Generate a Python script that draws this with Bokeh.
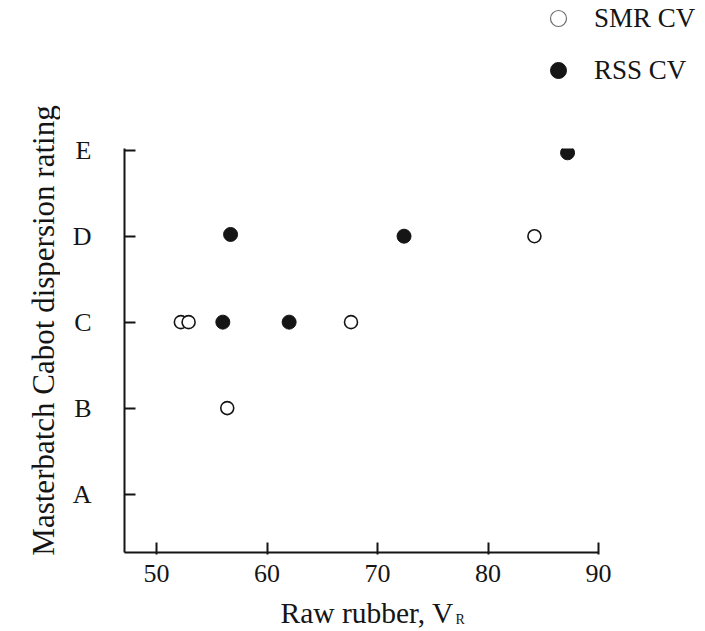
import math
from bokeh.plotting import figure
from bokeh.layouts import column, row
from bokeh.models import Range1d, FixedTicker, Label, Legend, LegendItem, ColumnDataSource
from bokeh.embed import file_html
from bokeh.resources import INLINE

# data
smr_vr = [52.2, 52.9, 56.4, 67.6, 84.2]
smr_rating = [3, 3, 2, 3, 4]
rss_vr = [56.0, 56.7, 62.0, 72.4, 87.2]
rss_rating = [3, 4.02, 3, 4, 4.97]
rating_ticks = [1, 2, 3, 4, 5]
rating_labels = ["A", "B", "C", "D", "E"]
x_ticks = [50, 60, 70, 80, 90]
series_names = ["SMR CV", "RSS CV"]
x_title = "Raw rubber, V"
x_title_sub = "R"
y_title = "Masterbatch Cabot dispersion rating"

FONT = "Liberation Serif"
INK = "#151515"
OPEN_STYLE = dict(marker="circle", fill_color="white", line_color=INK, line_width=1.6)
FILL_STYLE = dict(marker="circle", fill_color=INK, line_color=INK, line_width=1)

src_smr = ColumnDataSource(dict(x=smr_vr, y=smr_rating))
src_rss = ColumnDataSource(dict(x=rss_vr, y=rss_rating))


def blank(width, height, x0=0, y0=0):
    f = figure(width=width, height=height, frame_width=width, frame_height=height,
               min_border=0, x_axis_type=None, y_axis_type=None,
               x_range=Range1d(x0, x0 + width), y_range=Range1d(y0, y0 + height),
               output_backend="svg", toolbar_location=None)
    f.outline_line_color = None
    f.grid.visible = False
    return f


# ---- main plot ----
p = figure(width=637, height=499, frame_width=474, frame_height=404,
           min_border_left=64, min_border_right=99, min_border_top=52, min_border_bottom=43,
           x_range=Range1d(47.1, 90), y_range=Range1d(0.32, 5.02),
           output_backend="svg", toolbar_location=None)
p.outline_line_color = None
p.grid.visible = False

p.scatter("x", "y", source=src_smr, size=13, **OPEN_STYLE)
p.scatter("x", "y", source=src_rss, size=14, **FILL_STYLE)

xa = p.xaxis[0]
xa.axis_label = None
xa.ticker = FixedTicker(ticks=x_ticks)
xa.minor_tick_line_color = None
xa.major_tick_in = 10
xa.major_tick_out = 2
xa.major_label_standoff = 10
xa.axis_line_width = 2
xa.major_tick_line_width = 2
xa.axis_line_color = INK
xa.major_tick_line_color = INK
xa.major_label_text_font = FONT
xa.major_label_text_font_size = "26px"
xa.major_label_text_color = INK

ya = p.yaxis[0]
ya.axis_label = None
ya.ticker = FixedTicker(ticks=rating_ticks)
ya.major_label_overrides = {t: l for t, l in zip(rating_ticks, rating_labels)}
ya.minor_tick_line_color = None
ya.major_tick_in = 11
ya.major_tick_out = 0
ya.major_label_standoff = 33
ya.axis_line_width = 2
ya.major_tick_line_width = 2
ya.axis_line_color = INK
ya.major_tick_line_color = INK
ya.major_label_text_font = FONT
ya.major_label_text_font_size = "26px"
ya.major_label_text_color = INK

# ---- legend strip (top); its ranges lie away from the data so only the legend shows ----
lf = blank(637, 96, x0=1000, y0=1000)
r_open = lf.scatter("x", "y", source=src_smr, size=13, marker="circle",
                    fill_color="white", line_color="#6e6e6e", line_width=1.2)
r_fill = lf.scatter("x", "y", source=src_rss, size=14, **FILL_STYLE)
legend = Legend(items=[LegendItem(label=series_names[0], renderers=[r_open], index=0),
                       LegendItem(label=series_names[1], renderers=[r_fill], index=0)],
                location=(478, 6), orientation="vertical",
                glyph_width=40, glyph_height=40, label_height=40, spacing=12,
                label_standoff=16, padding=0, margin=0,
                border_line_color=None, background_fill_alpha=0,
                label_text_font=FONT, label_text_font_size="27px", label_text_color=INK)
lf.add_layout(legend, "center")

# ---- x title strip (bottom) ----
xf = blank(637, 33)
xf.add_layout(Label(x=220, y=16, x_units="screen", y_units="screen", text=x_title,
                    text_font=FONT, text_font_size="29.5px", text_color=INK,
                    text_baseline="alphabetic", text_align="left"))
xf.add_layout(Label(x=395, y=9, x_units="screen", y_units="screen", text=x_title_sub,
                    text_font=FONT, text_font_size="14px", text_color=INK,
                    text_baseline="alphabetic", text_align="left"))

# ---- y title strip (left, full height) ----
yf = blank(60, 628)
yf.add_layout(Label(x=43, y=298, x_units="screen", y_units="screen", text=y_title,
                    angle=math.pi / 2, text_font=FONT, text_font_size="31px", text_color=INK,
                    text_baseline="middle", text_align="center"))

layout = row(yf, column(lf, row(p), xf))
open("out.html", "w").write(file_html(layout, INLINE))
